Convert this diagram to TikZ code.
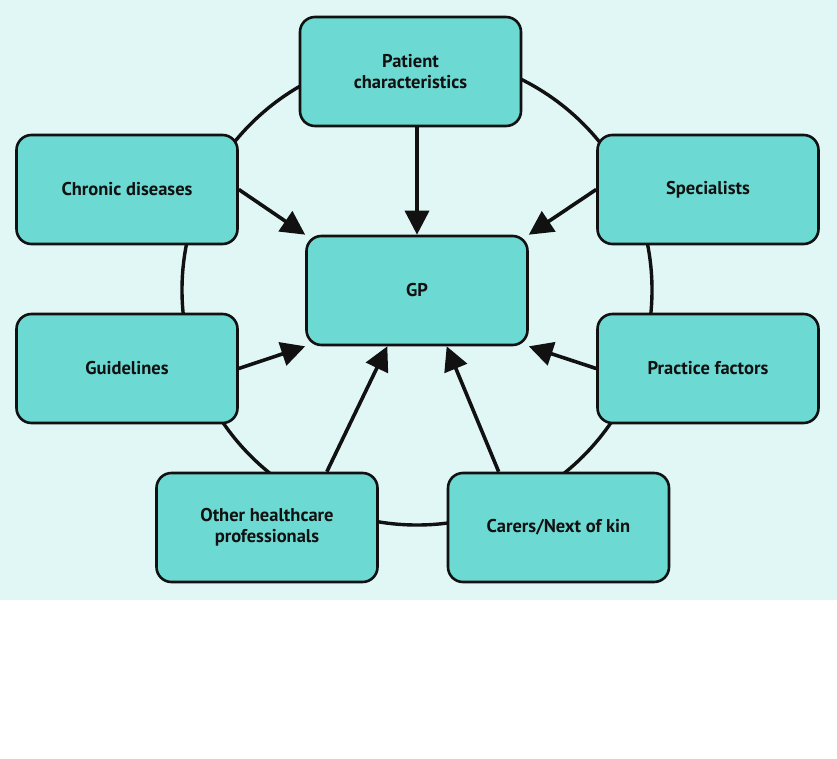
\documentclass[tikz,border=0pt]{standalone}
\usepackage{fontspec}
\setmainfont{PT Sans}
\usepackage{tikz}
\usetikzlibrary{shapes, calc, arrows.meta}

\definecolor{bgcyan}{RGB}{224,247,245}
\definecolor{boxcyan}{RGB}{108,217,210}
\definecolor{inkblack}{RGB}{17,17,17}

\tikzset{
	box/.style={draw=inkblack, fill=boxcyan, line width=2.6pt, rounded corners=15pt,
		minimum width=221pt, minimum height=109pt, align=center, text=inkblack,
		font=\fontsize{18.5}{21}\selectfont\bfseries},
	arr/.style={draw=inkblack, line width=3.6pt, -{Triangle[length=24pt,width=24pt]}},
}

\begin{document}
\begin{tikzpicture}[x=1pt, y=-1pt]

	\useasboundingbox (0,0) rectangle (837,759);
	\fill[bgcyan] (0,0) rectangle (837,600);

	\draw[inkblack, line width=3.4pt] (417,290) circle (235pt);

	\node[box] (patient) at (410.5,71.5) {Patient\\characteristics};
	\node[box] (chronic) at (127,189.5) {Chronic diseases};
	\node[box] (special) at (708,189.5) {Specialists};
	\node[box] (gp) at (417,290.5) {GP};
	\node[box] (guide) at (127,368.5) {Guidelines};
	\node[box] (practice) at (708,368.5) {Practice factors};
	\node[box] (other) at (267,527.5) {Other healthcare\\professionals};
	\node[box] (carers) at (558.5,527.5) {Carers/Next of kin};

	\draw[arr] (patient.south -| gp.north) -- (gp.north);
	\draw[arr] (chronic.east) -- (gp.north west);
	\draw[arr] (special.west) -- (gp.north east);
	\draw[arr] (guide.east) -- (gp.south west);
	\draw[arr] (practice.west) -- (gp.south east);
	\draw[arr] (other.43) -- (gp.242);
	\draw[arr] (carers.137) -- (gp.298);
\end{tikzpicture}
\end{document}
